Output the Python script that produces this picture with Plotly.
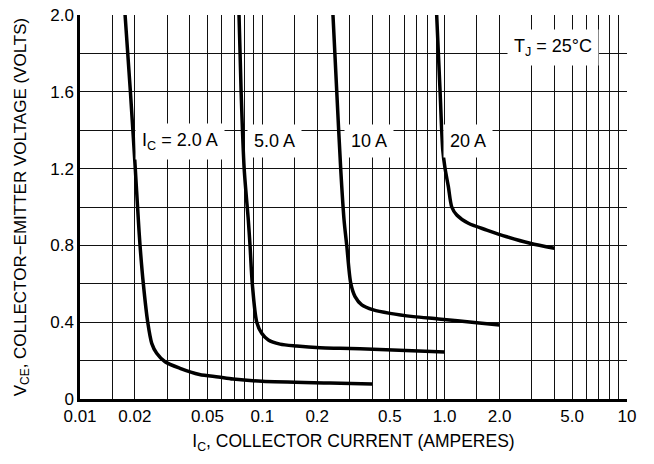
import math
import plotly.graph_objects as go

# Data (I in amperes, V in volts)
i_2a = [0.01767, 0.0189, 0.0201, 0.0209, 0.02134, 0.02225, 0.02352, 0.02474, 0.02634, 0.02927,
        0.03536, 0.0452, 0.0574, 0.0691, 0.1, 0.235, 0.4]
v_2a = [2.0, 1.6, 1.2, 0.93, 0.8, 0.6, 0.4, 0.29, 0.238, 0.194,
        0.16, 0.128, 0.115, 0.104, 0.092, 0.083, 0.078]

i_5a = [0.0745, 0.0765, 0.0795, 0.0838, 0.0856, 0.0881, 0.0932, 0.0992, 0.1079, 0.125,
        0.1544, 0.2073, 0.2669, 0.405, 1.0]
v_5a = [2.0, 1.6, 1.2, 0.93, 0.8, 0.6, 0.4, 0.342, 0.307, 0.286,
        0.276, 0.267, 0.264, 0.259, 0.245]

i_10a = [0.244, 0.256, 0.269, 0.2807, 0.2904, 0.3054, 0.3225, 0.351, 0.4064, 0.5018,
         0.6735, 0.9235, 1.5, 2.0]
v_10a = [2.0, 1.6, 1.2, 0.932, 0.8, 0.603, 0.533, 0.49, 0.464, 0.446,
         0.429, 0.417, 0.397, 0.385]

i_20a = [0.904, 0.944, 0.9763, 1.005, 1.0478, 1.094, 1.165, 1.349, 1.702, 2.191, 2.941, 4.0]
v_20a = [2.0, 1.6, 1.297, 1.2, 1.106, 1.0, 0.958, 0.915, 0.88, 0.845, 0.811, 0.785]

x_major = [0.01, 0.02, 0.05, 0.1, 0.2, 0.5, 1.0, 2.0, 5.0, 10.0]
x_major_text = ["0.01", "0.02", "0.05", "0.1", "0.2", "0.5", "1.0", "2.0", "5.0", "10"]
x_minor = [0.015, 0.03, 0.04, 0.06, 0.07, 0.08, 0.09,
           0.15, 0.3, 0.4, 0.6, 0.7, 0.8, 0.9,
           1.5, 3.0, 4.0, 6.0, 7.0, 8.0, 9.0]
y_major = [0, 0.4, 0.8, 1.2, 1.6, 2.0]
y_major_text = ["0", "0.4", "0.8", "1.2", "1.6", "2.0"]
y_minor = [0.2, 0.6, 1.0, 1.4, 1.8]

label_text = ["I<sub>C</sub> = 2.0 A", "5.0 A", "10 A", "20 A", "T<sub>J</sub> = 25°C"]
label_x = [0.0354, 0.116, 0.385, 1.336, 3.93]
label_y = [1.343, 1.343, 1.343, 1.343, 1.83]

FONT = "Liberation Sans, Arial, sans-serif"

fig = go.Figure()
for xs, ys in [(i_2a, v_2a), (i_5a, v_5a), (i_10a, v_10a), (i_20a, v_20a)]:
    fig.add_trace(go.Scatter(x=xs, y=ys, mode="lines",
                             line=dict(color="black", width=3.5, shape="spline", smoothing=0.8),
                             showlegend=False, hoverinfo="skip"))

for t, xv, yv in zip(label_text, label_x, label_y):
    fig.add_annotation(x=math.log10(xv), y=yv, text=t, xref="x", yref="y",
                       showarrow=False, bgcolor="white", borderpad=6,
                       font=dict(family=FONT, size=18, color="black"))

grid = dict(showgrid=True, gridcolor="#111111", gridwidth=1.2)
fig.update_xaxes(type="log", range=[-2, 1], automargin=False,
                 tickmode="array", tickvals=x_major, ticktext=x_major_text,
                 minor=dict(tickmode="array", tickvals=x_minor, ticks="", **grid),
                 showline=True, linecolor="black", linewidth=2.5,
                 ticks="", tickfont=dict(family=FONT, size=17, color="black"),
                 title=dict(text="I<sub>C</sub>, COLLECTOR CURRENT (AMPERES)", standoff=10,
                            font=dict(family=FONT, size=17.5, color="black")),
                 zeroline=False, **grid)
fig.update_yaxes(range=[0, 2.0], automargin=False,
                 tickmode="array", tickvals=y_major, ticktext=y_major_text,
                 minor=dict(tickmode="array", tickvals=y_minor, ticks="", **grid),
                 showline=True, linecolor="black", linewidth=2.5,
                 ticks="", tickfont=dict(family=FONT, size=17, color="black"),
                 title=dict(text="V<sub>CE</sub>, COLLECTOR−EMITTER VOLTAGE (VOLTS)", standoff=20,
                            font=dict(family=FONT, size=17, color="black")),
                 zeroline=False, **grid)

fig.update_layout(width=654, height=464,
                  margin=dict(l=80, r=27, t=15, b=65, pad=0),
                  paper_bgcolor="white", plot_bgcolor="white",
                  font=dict(family=FONT, size=17, color="black"))

fig.write_html("out.html", config={"displayModeBar": False},
               post_script="document.body.style.margin='0';")
